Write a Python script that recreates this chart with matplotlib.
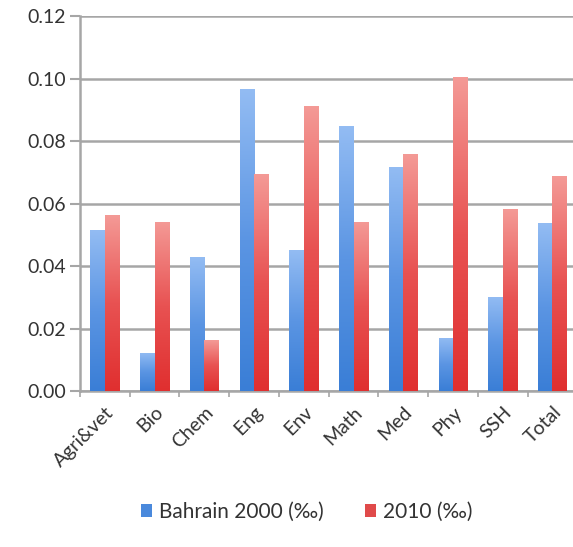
import numpy as np
import matplotlib
matplotlib.use("Agg")
import matplotlib.pyplot as plt
from matplotlib.colors import LinearSegmentedColormap
from matplotlib.patches import Patch

plt.rcParams["font.family"] = ["Lato", "DejaVu Sans"]

fields = ["Agri&vet", "Bio", "Chem", "Eng", "Env", "Math", "Med", "Phy", "SSH", "Total"]
bahrain_2000 = [0.0515, 0.0123, 0.0428, 0.0965, 0.0451, 0.0848, 0.0718, 0.0171, 0.0302, 0.0537]
bahrain_2010 = [0.0563, 0.0542, 0.0163, 0.0693, 0.0912, 0.0542, 0.0757, 0.1004, 0.0581, 0.0688]
series_names = ["Bahrain 2000 (‰)", "2010 (‰)"]

blue_cmap = LinearSegmentedColormap.from_list("blue_grad", ["#3a7ed6", "#5b95e3", "#93bcf3"])
red_cmap = LinearSegmentedColormap.from_list("red_grad", ["#e02f2f", "#e85252", "#f49a96"])

fig = plt.figure(figsize=(5.73, 5.47), dpi=100)
ax = fig.add_axes([0.1396, 0.2852, 0.868, 0.6855])

x = np.arange(len(fields))
w = 0.29
grad = np.linspace(0, 1, 256).reshape(-1, 1)

def gradient_bars(xs, vals, cmap):
    # invisible bars give the shapes, a clipped gradient image fills each one
    bars = ax.bar(xs, vals, width=w, color="none", edgecolor="none", zorder=3)
    for b in bars:
        x0, y0 = b.get_x(), b.get_y()
        im = ax.imshow(grad, cmap=cmap, origin="lower", aspect="auto",
                       extent=[x0, x0 + b.get_width(), y0, y0 + b.get_height()],
                       zorder=3, interpolation="bilinear")
        im.set_clip_path(b)
    return bars

gradient_bars(x - w / 2, bahrain_2000, blue_cmap)
gradient_bars(x + w / 2, bahrain_2010, red_cmap)

ax.set_xlim(-0.5, len(fields) - 0.5)
ax.set_ylim(0, 0.12)
ax.set_yticks(np.arange(0, 0.121, 0.02))
ax.set_yticklabels(["%.2f" % v for v in np.arange(0, 0.121, 0.02)])
ax.yaxis.grid(True, color="#a6a6a6", linewidth=1.8, zorder=0)
ax.set_axisbelow(True)

ax.set_xticks(x)
ax.set_xticklabels(fields, rotation=45, ha="right", rotation_mode="anchor")
ax.set_xticks(np.arange(-0.5, len(fields), 1), minor=True)
ax.tick_params(axis="x", which="major", length=0, pad=9, labelsize=14, colors="#333333")
ax.tick_params(axis="x", which="minor", length=4, color="#a6a6a6", width=1.2)
ax.tick_params(axis="y", length=7, color="#a6a6a6", width=1.5, labelsize=14, colors="#333333", pad=3)

for side in ["top", "right"]:
    ax.spines[side].set_visible(False)
ax.spines["left"].set_color("#a6a6a6")
ax.spines["left"].set_linewidth(1.8)
ax.spines["bottom"].set_color("#a6a6a6")
ax.spines["bottom"].set_linewidth(1.8)

handles = [Patch(facecolor="#4a89dc"), Patch(facecolor="#e04a4a")]
fig.legend(handles, series_names, loc="center", bbox_to_anchor=(0.535, 0.064), ncol=2,
           frameon=False, fontsize=15, handlelength=0.55, handleheight=0.55,
           handletextpad=0.3, columnspacing=2.0, labelcolor="#333333")

fig.savefig("out.png", dpi=100)
